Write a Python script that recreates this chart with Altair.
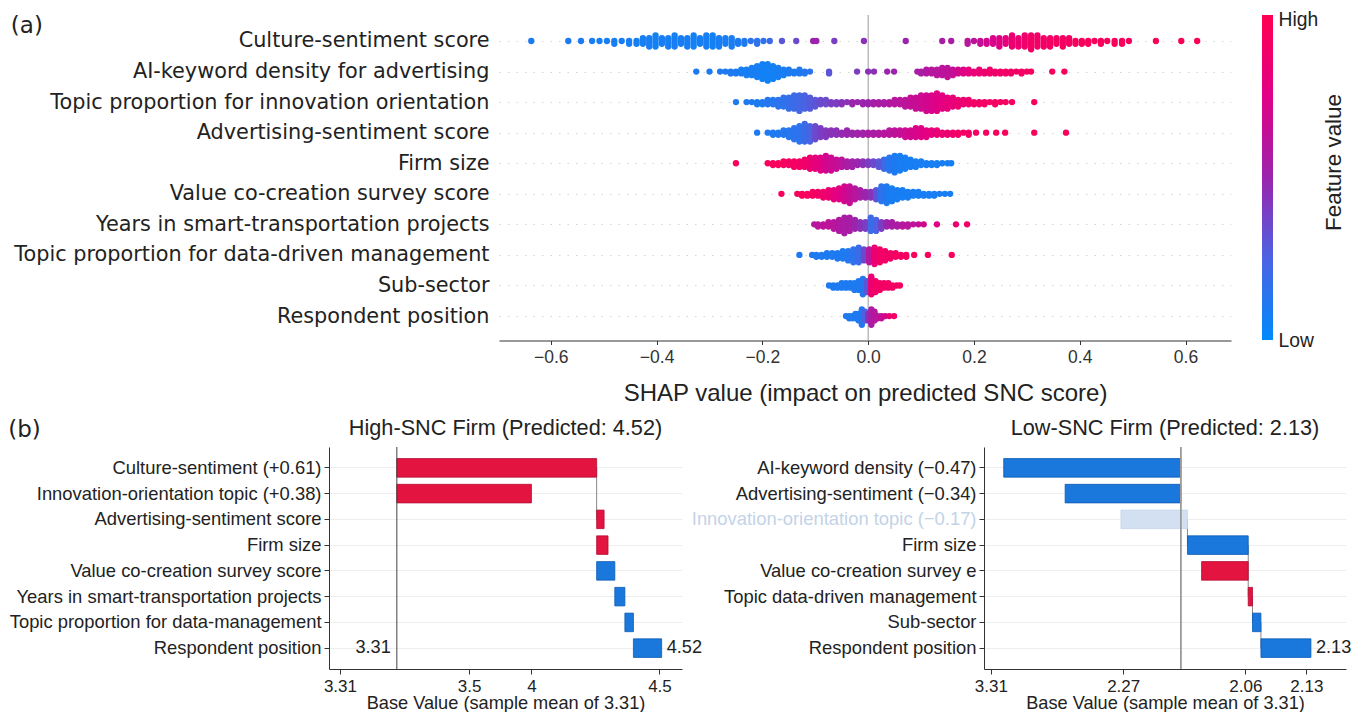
import json
import altair as alt
import pandas as pd

# ---------------- (a) SHAP beeswarm ----------------
FEATURES = [
    "Culture-sentiment score",
    "AI-keyword density for advertising",
    "Topic proportion for innovation orientation",
    "Advertising-sentiment score",
    "Firm size",
    "Value co-creation survey score",
    "Years in smart-transportation projects",
    "Topic proportion for data-driven management",
    "Sub-sector",
    "Respondent position",
]

# (SHAP value, number of dots stacked at that value, feature value 0..1)
SWARM_CULTURE = [
    (-0.637, 1, 0.10), (-0.567, 1, 0.10), (-0.543, 1, 0.10),
    (-0.522, 1, 0.08), (-0.508, 1, 0.08), (-0.494, 1, 0.08), (-0.480, 2, 0.08), (-0.466, 1, 0.08),
    (-0.452, 2, 0.08), (-0.438, 2, 0.08), (-0.426, 3, 0.08), (-0.414, 4, 0.08), (-0.402, 5, 0.06),
    (-0.390, 3, 0.08), (-0.378, 4, 0.08), (-0.366, 5, 0.08), (-0.354, 3, 0.08), (-0.342, 4, 0.08),
    (-0.330, 5, 0.06), (-0.318, 3, 0.08), (-0.306, 5, 0.08), (-0.294, 5, 0.06), (-0.282, 4, 0.08),
    (-0.270, 3, 0.08), (-0.258, 4, 0.08), (-0.246, 2, 0.10), (-0.234, 2, 0.10), (-0.222, 1, 0.15),
    (-0.210, 2, 0.15), (-0.198, 1, 0.15), (-0.186, 1, 0.20),
    (-0.163, 1, 0.30), (-0.136, 1, 0.35), (-0.104, 1, 0.50), (-0.098, 1, 0.50), (-0.064, 1, 0.40),
    (-0.008, 1, 0.45), (0.071, 1, 0.50), (0.140, 1, 0.55), (0.157, 1, 0.55),
    (0.188, 2, 0.60), (0.200, 1, 0.62), (0.212, 2, 0.65), (0.224, 2, 0.70), (0.236, 3, 0.72),
    (0.248, 4, 0.75), (0.260, 3, 0.80), (0.272, 5, 0.85), (0.284, 4, 0.85), (0.296, 5, 0.88),
    (0.308, 6, 0.90), (0.320, 5, 0.90), (0.332, 4, 0.90), (0.344, 4, 0.92), (0.356, 3, 0.92),
    (0.368, 4, 0.92), (0.380, 3, 0.92), (0.392, 2, 0.94), (0.404, 2, 0.94), (0.416, 2, 0.94),
    (0.428, 1, 0.95), (0.440, 2, 0.95), (0.452, 1, 0.95), (0.466, 2, 0.95), (0.480, 2, 0.95),
    (0.493, 1, 0.95), (0.544, 1, 0.96), (0.592, 1, 0.96), (0.622, 1, 0.96),
]
SWARM_AI = [
    (-0.325, 1, 0.10), (-0.300, 1, 0.10), (-0.280, 1, 0.10), (-0.270, 1, 0.10), (-0.260, 2, 0.10),
    (-0.250, 2, 0.10), (-0.240, 3, 0.08), (-0.230, 4, 0.08), (-0.220, 5, 0.08), (-0.210, 7, 0.08),
    (-0.200, 9, 0.06), (-0.190, 10, 0.06), (-0.180, 8, 0.06), (-0.170, 6, 0.08), (-0.160, 4, 0.08),
    (-0.150, 3, 0.10), (-0.140, 2, 0.10), (-0.130, 3, 0.10), (-0.120, 2, 0.12), (-0.110, 1, 0.15),
    (-0.074, 2, 0.30), (-0.021, 1, 0.40), (0.000, 1, 0.45), (0.011, 1, 0.45), (0.036, 1, 0.50),
    (0.049, 1, 0.50),
    (0.093, 1, 0.55), (0.100, 2, 0.55), (0.110, 3, 0.58), (0.120, 3, 0.60), (0.130, 4, 0.60),
    (0.140, 5, 0.62), (0.150, 6, 0.62), (0.160, 4, 0.65), (0.170, 3, 0.70), (0.180, 3, 0.75),
    (0.190, 3, 0.80), (0.200, 2, 0.82), (0.210, 3, 0.85), (0.220, 2, 0.85), (0.230, 3, 0.88),
    (0.240, 2, 0.88), (0.250, 2, 0.90), (0.260, 2, 0.90), (0.270, 2, 0.90), (0.280, 1, 0.90),
    (0.290, 2, 0.92), (0.300, 1, 0.92), (0.308, 1, 0.92), (0.348, 1, 0.95), (0.371, 1, 0.95),
]
SWARM_INNOVATION = [
    (-0.250, 1, 0.10), (-0.230, 1, 0.10), (-0.220, 1, 0.10), (-0.210, 2, 0.10), (-0.200, 2, 0.10),
    (-0.190, 3, 0.12), (-0.180, 3, 0.12), (-0.170, 4, 0.15), (-0.160, 5, 0.15), (-0.150, 6, 0.18),
    (-0.140, 7, 0.20), (-0.130, 8, 0.22), (-0.120, 7, 0.25), (-0.110, 6, 0.28), (-0.100, 4, 0.30),
    (-0.090, 3, 0.35), (-0.080, 3, 0.35), (-0.070, 2, 0.40), (-0.060, 2, 0.40), (-0.050, 2, 0.45),
    (-0.040, 1, 0.45), (-0.030, 2, 0.50), (-0.020, 1, 0.50), (-0.010, 2, 0.50), (0.000, 2, 0.50),
    (0.010, 2, 0.55), (0.020, 2, 0.55), (0.030, 2, 0.55), (0.040, 2, 0.58), (0.050, 3, 0.60),
    (0.060, 3, 0.60), (0.070, 4, 0.62), (0.080, 5, 0.65), (0.090, 6, 0.65), (0.100, 7, 0.68),
    (0.110, 8, 0.70), (0.120, 8, 0.72), (0.130, 9, 0.75), (0.140, 7, 0.78), (0.150, 6, 0.80),
    (0.160, 5, 0.82), (0.170, 4, 0.85), (0.180, 3, 0.85), (0.190, 3, 0.88), (0.200, 2, 0.90),
    (0.210, 2, 0.90), (0.220, 2, 0.90), (0.230, 1, 0.90), (0.240, 2, 0.92), (0.250, 1, 0.92),
    (0.260, 1, 0.92), (0.272, 1, 0.92), (0.314, 1, 0.95),
]
SWARM_ADVERTISING = [
    (-0.210, 1, 0.10), (-0.190, 1, 0.10), (-0.180, 2, 0.10), (-0.170, 2, 0.10), (-0.160, 3, 0.12),
    (-0.150, 4, 0.12), (-0.140, 6, 0.15), (-0.130, 8, 0.15), (-0.120, 9, 0.20), (-0.110, 8, 0.25),
    (-0.100, 7, 0.35), (-0.090, 5, 0.40), (-0.080, 4, 0.42), (-0.070, 3, 0.45), (-0.060, 3, 0.45),
    (-0.050, 2, 0.48), (-0.040, 3, 0.50), (-0.030, 2, 0.50), (-0.020, 2, 0.52), (-0.010, 2, 0.52),
    (0.000, 2, 0.55), (0.010, 2, 0.55), (0.020, 2, 0.58), (0.030, 2, 0.60), (0.040, 3, 0.60),
    (0.050, 3, 0.62), (0.060, 3, 0.65), (0.070, 4, 0.68), (0.080, 4, 0.70), (0.090, 5, 0.72),
    (0.100, 5, 0.75), (0.110, 4, 0.78), (0.120, 3, 0.80), (0.130, 3, 0.82), (0.140, 2, 0.85),
    (0.150, 2, 0.85), (0.160, 2, 0.88), (0.170, 2, 0.90), (0.180, 1, 0.90), (0.190, 2, 0.90),
    (0.204, 1, 0.92), (0.223, 1, 0.95), (0.242, 1, 0.95), (0.259, 1, 0.95), (0.314, 1, 0.95),
    (0.374, 1, 0.95),
]
SWARM_FIRM = [
    (-0.250, 1, 0.95), (-0.190, 1, 0.95), (-0.180, 2, 0.95), (-0.170, 2, 0.95), (-0.160, 3, 0.95),
    (-0.150, 3, 0.92), (-0.140, 4, 0.92), (-0.130, 4, 0.90), (-0.120, 5, 0.88), (-0.110, 7, 0.85),
    (-0.100, 7, 0.80), (-0.090, 8, 0.75), (-0.080, 9, 0.70), (-0.070, 8, 0.68), (-0.060, 6, 0.65),
    (-0.050, 5, 0.60), (-0.040, 4, 0.55), (-0.030, 4, 0.52), (-0.020, 3, 0.50), (-0.010, 3, 0.45),
    (0.000, 3, 0.40), (0.010, 3, 0.35), (0.020, 4, 0.30), (0.030, 6, 0.20), (0.040, 8, 0.12),
    (0.050, 10, 0.10), (0.060, 9, 0.08), (0.070, 7, 0.08), (0.080, 5, 0.08), (0.090, 4, 0.08),
    (0.100, 3, 0.08), (0.110, 2, 0.08), (0.120, 2, 0.08), (0.130, 2, 0.08), (0.140, 1, 0.08),
    (0.150, 1, 0.08), (0.157, 1, 0.08),
]
SWARM_VALUE = [
    (-0.164, 1, 0.95), (-0.134, 1, 0.95), (-0.125, 2, 0.95), (-0.115, 2, 0.95), (-0.105, 3, 0.92),
    (-0.095, 3, 0.90), (-0.085, 4, 0.88), (-0.075, 5, 0.85), (-0.065, 6, 0.80), (-0.055, 7, 0.75),
    (-0.045, 9, 0.70), (-0.035, 10, 0.65), (-0.025, 7, 0.60), (-0.015, 5, 0.55), (-0.005, 4, 0.50),
    (0.005, 4, 0.45), (0.015, 6, 0.30), (0.025, 9, 0.15), (0.035, 10, 0.10), (0.045, 8, 0.08),
    (0.055, 6, 0.08), (0.065, 5, 0.08), (0.075, 4, 0.08), (0.085, 3, 0.08), (0.095, 3, 0.08),
    (0.105, 2, 0.08), (0.115, 2, 0.08), (0.125, 2, 0.08), (0.135, 1, 0.08), (0.145, 1, 0.08),
    (0.155, 1, 0.08),
]
SWARM_YEARS = [
    (-0.102, 1, 0.60), (-0.095, 2, 0.60), (-0.085, 2, 0.62), (-0.075, 3, 0.62), (-0.065, 4, 0.60),
    (-0.055, 6, 0.58), (-0.045, 8, 0.55), (-0.035, 7, 0.55), (-0.025, 5, 0.50), (-0.015, 4, 0.45),
    (-0.005, 4, 0.40), (0.005, 7, 0.20), (0.015, 6, 0.25), (0.025, 4, 0.40), (0.035, 3, 0.50),
    (0.045, 3, 0.55), (0.055, 2, 0.55), (0.065, 2, 0.60), (0.075, 2, 0.60), (0.085, 1, 0.62),
    (0.095, 1, 0.65), (0.105, 1, 0.70), (0.130, 1, 0.75), (0.166, 1, 0.85), (0.187, 1, 0.90),
]
SWARM_DATA_MGMT = [
    (-0.130, 1, 0.10), (-0.106, 1, 0.10), (-0.098, 2, 0.10), (-0.088, 2, 0.10), (-0.078, 3, 0.10),
    (-0.068, 3, 0.10), (-0.058, 4, 0.10), (-0.048, 5, 0.10), (-0.038, 6, 0.12), (-0.028, 8, 0.15),
    (-0.018, 9, 0.20), (-0.008, 7, 0.35), (0.002, 8, 0.60), (0.012, 10, 0.85), (0.022, 8, 0.90),
    (0.032, 6, 0.90), (0.042, 4, 0.90), (0.052, 3, 0.92), (0.062, 2, 0.92), (0.072, 2, 0.92),
    (0.087, 1, 0.95), (0.113, 1, 0.95), (0.158, 1, 0.95),
]
SWARM_SUBSECTOR = [
    (-0.074, 1, 0.10), (-0.066, 2, 0.10), (-0.058, 2, 0.10), (-0.050, 3, 0.10), (-0.042, 3, 0.10),
    (-0.034, 3, 0.10), (-0.026, 4, 0.10), (-0.018, 5, 0.10), (-0.010, 8, 0.12), (-0.002, 6, 0.30),
    (0.006, 9, 0.85), (0.014, 6, 0.90), (0.022, 4, 0.90), (0.030, 3, 0.90), (0.038, 3, 0.90),
    (0.046, 2, 0.92), (0.054, 1, 0.92), (0.060, 1, 0.92),
]
SWARM_RESPONDENT = [
    (-0.042, 1, 0.10), (-0.036, 2, 0.10), (-0.030, 2, 0.10), (-0.024, 3, 0.10), (-0.018, 4, 0.10),
    (-0.012, 8, 0.12), (-0.006, 5, 0.25), (0.000, 4, 0.45), (0.006, 8, 0.55), (0.012, 5, 0.60),
    (0.018, 2, 0.60), (0.025, 2, 0.65), (0.032, 1, 0.70), (0.040, 1, 0.85), (0.049, 1, 0.90),
]
SWARMS = [SWARM_CULTURE, SWARM_AI, SWARM_INNOVATION, SWARM_ADVERTISING, SWARM_FIRM,
          SWARM_VALUE, SWARM_YEARS, SWARM_DATA_MGMT, SWARM_SUBSECTOR, SWARM_RESPONDENT]

SHAP_TICKS = [-0.6, -0.4, -0.2, 0.0, 0.2, 0.4, 0.6]
COLOR_DOMAIN = [0, 0.25, 0.5, 0.75, 1]
COLOR_RANGE = ["#008afb", "#4b63e3", "#9b24ad", "#e00086", "#ff0051"]

# ---------------- (b) waterfalls ----------------
HIGH_LABELS = ["Culture-sentiment (+0.61)", "Innovation-orientation topic (+0.38)",
               "Advertising-sentiment score", "Firm size", "Value co-creation survey score",
               "Years in smart-transportation projects", "Topic proportion for data-management",
               "Respondent position"]
HIGH_START = [3.31, 3.31, 4.223, 4.223, 4.223, 4.306, 4.352, 4.391]
HIGH_END = [4.223, 3.925, 4.257, 4.275, 4.306, 4.352, 4.391, 4.52]
HIGH_SIGN = ["pos", "pos", "pos", "pos", "neg", "neg", "neg", "neg"]
HIGH_TICKS = [3.05, 3.64, 3.925, 4.51]
HIGH_TICK_LABELS = ["3.31", "3.5", "4", "4.5"]
HIGH_BASE = 3.31
HIGH_PRED = 4.52
HIGH_CONNECT = [(4.223, 0, 2)]

LOW_LABELS = ["AI-keyword density (\u22120.47)", "Advertising-sentiment (\u22120.34)",
              "Innovation-orientation topic (\u22120.17)", "Firm size",
              "Value co-creation survey e", "Topic data-driven management", "Sub-sector",
              "Respondent position"]
LOW_START = [2.840, 3.003, 3.151, 3.3275, 3.365, 3.4887, 3.500, 3.5224]
LOW_END = [3.31, 3.31, 3.3275, 3.4887, 3.4887, 3.500, 3.5224, 3.655]
LOW_SIGN = ["neg", "neg", "faded", "neg", "pos", "pos", "neg", "neg"]
LOW_TICKS = [2.806, 3.157, 3.481, 3.643]
LOW_TICK_LABELS = ["3.31", "2.27", "2.06", "2.13"]
LOW_BASE = 3.31
LOW_PRED_TEXT = "2.13"
LOW_CONNECT = [(3.3275, 2, 3), (3.4887, 3, 5), (3.500, 5, 6), (3.5224, 6, 7)]

SIGN_DOMAIN = ["pos", "neg", "faded"]
SIGN_FILL = ["#e31440", "#1a78dc", "#d3e0f1"]
SIGN_STROKE = ["#b30d32", "#0d5bb5", "#c6d6ea"]

# ---------------- build beeswarm ----------------
rows = []
for r, pts in enumerate(SWARMS):
    for (x, n, fv) in pts:
        for _ in range(n):
            rows.append({"row": r, "shap": x, "fv": fv})
swarm_df = pd.DataFrame(rows)

feat_js = json.dumps(FEATURES)

x_scale = alt.Scale(domain=[-0.698, 0.686], nice=False, zero=False)
bees_x_axis = alt.Axis(values=SHAP_TICKS, format=".1f",
                       title="SHAP value (impact on predicted SNC score)",
                       labelFont="Liberation Sans", labelFontSize=17.5, labelColor="#333333",
                       labelPadding=3.5, tickSize=4, tickColor="#333333",
                       domainColor="#333333", domainWidth=1, grid=False,
                       titleFont="Liberation Sans", titleFontSize=24, titleFontWeight="normal",
                       titleColor="#222222", titlePadding=16)
bees_y_axis = alt.Axis(values=list(range(10)), labelExpr=feat_js + "[datum.value]",
                       labelFont="DejaVu Sans", labelFontSize=20.8, labelColor="#222222",
                       labelPadding=10, labelLimit=900, ticks=False, domain=False,
                       grid=True, gridColor="#cccccc", gridDash=[1.5, 7], gridWidth=0.8,
                       title=None)
y_scale = alt.Scale(domain=[-0.85, 9.8], reverse=True, nice=False, zero=False)

points = alt.Chart(swarm_df).transform_window(
    layer="row_number()", groupby=["row", "shap"]
).transform_calculate(
    k="ceil((datum.layer - 1) / 2) * ((datum.layer - 1) % 2 == 1 ? 1 : -1)"
).transform_joinaggregate(
    kmax="max(k)", groupby=["row"]
).transform_calculate(
    ypos="datum.row + datum.k * 0.36 / (datum.kmax + 1)"
).mark_circle(size=40, opacity=1).encode(
    x=alt.X("shap:Q", scale=x_scale, axis=bees_x_axis),
    y=alt.Y("ypos:Q", scale=y_scale, axis=bees_y_axis),
    color=alt.Color("fv:Q", scale=alt.Scale(domain=COLOR_DOMAIN, range=COLOR_RANGE,
                                            interpolate="rgb"), legend=None),
)

zero_rule = alt.Chart(alt.Data(values=[{"z": 0}])).mark_rule(
    color="#999999", strokeWidth=1
).encode(x=alt.X("z:Q", scale=x_scale, axis=bees_x_axis))

bees = alt.layer(zero_rule, points).properties(
    width=732, height=325.5,
    title=alt.TitleParams("(a)", anchor="start", frame="bounds", font="DejaVu Sans",
                          fontSize=23, fontWeight="normal", color="#222222",
                          offset=-23, dx=-3),
)

# colour bar
cbar = alt.Chart(alt.Data(values=[{"lo": 0, "hi": 1}])).mark_rect(
    color=alt.LinearGradient(
        gradient="linear",
        stops=[alt.GradientStop(color=c, offset=o) for c, o in zip(COLOR_RANGE, COLOR_DOMAIN)],
        x1=0, x2=0, y1=1, y2=0),
).encode(
    x=alt.X("lo:Q", scale=alt.Scale(domain=[0, 1], nice=False), axis=None),
    x2="hi:Q",
    y=alt.Y("lo:Q", scale=alt.Scale(domain=[0, 1], nice=False),
            axis=alt.Axis(orient="right", values=[0, 1],
                          labelExpr="datum.value == 1 ? 'High' : 'Low'",
                          labelOffset={"condition": {"test": "datum.value == 1", "value": 4},
                                       "value": 0},
                          ticks=False, domain=False, grid=False,
                          labelFont="Liberation Sans", labelFontSize=19.3, labelColor="#222222",
                          labelPadding=5, title="Feature value", titleFont="Liberation Sans",
                          titleFontSize=22.4, titleFontWeight="normal", titleColor="#222222",
                          titleAngle=270, titleBaseline="top", titlePadding=5, titleY=147)),
    y2="hi:Q",
).properties(width=11, height=325)

# invisible spacer so that the top row's origin lines up with the bottom row's plot
spacer = alt.Chart(alt.Data(values=[{"s": 0}])).mark_point(opacity=0, size=1).encode(
    x=alt.X("s:Q", axis=None), y=alt.Y("s:Q", axis=None)
).properties(width=1, height=325.5)


# ---------------- build waterfalls ----------------
def make_panel(labels, starts, ends, signs, ticks, tick_labels, base, domain, end_value,
               end_text, connectors, title, width, base_color, base_width, left_text,
               faded_label=None):
    bars_df = pd.DataFrame({"label": labels, "start": starts, "end": ends, "sign": signs})
    conn_df = pd.DataFrame({"x": [c[0] for c in connectors],
                            "from": [labels[c[1]] for c in connectors],
                            "to": [labels[c[2]] for c in connectors]})
    label_color = "#222222"
    if faded_label is not None:
        label_color = {"condition": {"test": "datum.value == " + json.dumps(faded_label),
                                     "value": "#c3d3e8"}, "value": "#222222"}
    y_ax = alt.Axis(title=None, labelFont="Liberation Sans", labelFontSize=18.4,
                    labelColor=label_color, labelLimit=900, labelPadding=3,
                    tickSize=5, tickColor="#333333", domain=True, domainColor="#333333",
                    domainWidth=1, grid=True, gridColor="#eeeeee", gridWidth=1)
    x_ax = alt.Axis(values=ticks,
                    labelExpr=json.dumps(tick_labels) + "[indexof(" + json.dumps(ticks) + ", datum.value)]",
                    title="Base Value (sample mean of 3.31)", labelFont="Liberation Sans",
                    labelFontSize=17, labelColor="#222222", labelPadding=4, tickSize=5,
                    tickColor="#333333", domain=True, domainColor="#333333", domainWidth=1,
                    grid=False, titleFont="Liberation Sans", titleFontSize=18.2,
                    titleFontWeight="normal", titleColor="#222222", titlePadding=0.5,
                    labelFlush=False)
    xs = alt.Scale(domain=domain, nice=False, zero=False)
    ys = alt.Scale(domain=labels, paddingInner=0.28, paddingOuter=0.45)

    conn = alt.Chart(conn_df).mark_rule(color="#888888", strokeWidth=1).encode(
        x=alt.X("x:Q", scale=xs, axis=x_ax),
        y=alt.Y("from:N", scale=ys, axis=y_ax),
        y2="to:N",
    )
    bars = alt.Chart(bars_df).mark_bar(strokeWidth=0.8).encode(
        x=alt.X("start:Q", scale=xs, axis=x_ax),
        x2="end:Q",
        y=alt.Y("label:N", scale=ys, axis=y_ax),
        fill=alt.Fill("sign:N", scale=alt.Scale(domain=SIGN_DOMAIN, range=SIGN_FILL), legend=None),
        stroke=alt.Stroke("sign:N", scale=alt.Scale(domain=SIGN_DOMAIN, range=SIGN_STROKE), legend=None),
    )
    base_rule = alt.Chart(alt.Data(values=[{"b": base}])).mark_rule(
        color=base_color, strokeWidth=base_width
    ).encode(x=alt.X("b:Q", scale=xs, axis=x_ax))
    texts_df = pd.DataFrame({"x": [end_value], "label": [labels[-1]], "t": [end_text]})
    end_lbl = alt.Chart(texts_df).mark_text(
        align="left", dx=5, font="Liberation Sans", fontSize=18.2, color="#222222"
    ).encode(x=alt.X("x:Q", scale=xs, axis=x_ax),
             y=alt.Y("label:N", scale=ys, axis=y_ax), text="t:N")
    layers = [conn, bars, base_rule, end_lbl]
    if left_text:
        lt_df = pd.DataFrame({"x": [base], "label": [labels[-1]], "t": [left_text]})
        layers.append(alt.Chart(lt_df).mark_text(
            align="right", dx=-6, font="Liberation Sans", fontSize=18.2, color="#222222"
        ).encode(x=alt.X("x:Q", scale=xs, axis=x_ax),
                 y=alt.Y("label:N", scale=ys, axis=y_ax), text="t:N"))
    return alt.layer(*layers).properties(
        width=width, height=222,
        title=alt.TitleParams(title, anchor="middle", font="Liberation Sans", fontSize=21.7,
                              fontWeight="normal", color="#222222", offset=6.6),
    )


high = make_panel(HIGH_LABELS, HIGH_START, HIGH_END, HIGH_SIGN, HIGH_TICKS, HIGH_TICK_LABELS,
                  HIGH_BASE, [3.0, 4.613], HIGH_PRED, "4.52", HIGH_CONNECT,
                  "High-SNC Firm (Predicted: 4.52)", 353, "#444444", 1, "3.31")
low = make_panel(LOW_LABELS, LOW_START, LOW_END, LOW_SIGN, LOW_TICKS, LOW_TICK_LABELS,
                 LOW_BASE, [2.7877, 3.7481], LOW_END[-1], LOW_PRED_TEXT, LOW_CONNECT,
                 "Low-SNC Firm (Predicted: 2.13)", 362, "#999999", 1.8, None,
                 faded_label=LOW_LABELS[2])

inner_top = alt.hconcat(bees, cbar, spacing=31, bounds="flush")
top = alt.hconcat(spacer, inner_top, spacing=169, bounds="flush")
bottom = alt.hconcat(high, low, spacing=302, bounds="flush").properties(
    title=alt.TitleParams("(b)", anchor="start", frame="bounds", font="DejaVu Sans",
                          fontSize=23, fontWeight="normal", color="#222222",
                          offset=-24, dx=-1)
)

chart = alt.vconcat(top, bottom, spacing=11).properties(
    padding={"left": 0, "top": 2, "right": 0, "bottom": 0},
    background="white",
).configure_view(stroke=None)

chart.save("out.html", embed_options={"renderer": "svg", "actions": False})
